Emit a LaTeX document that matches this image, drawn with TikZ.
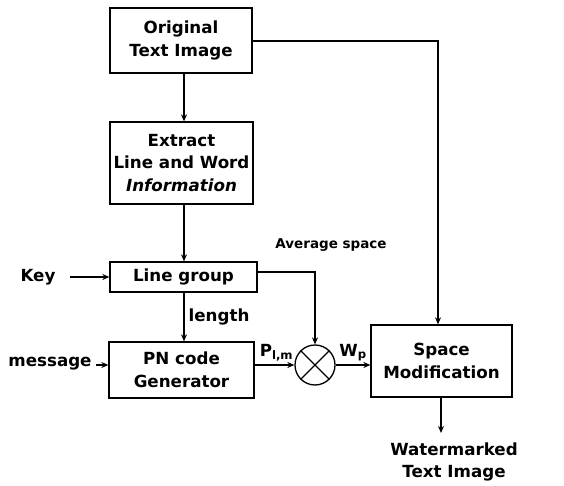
\documentclass[tikz,border=0pt]{standalone}
\usepackage{fontspec}
\setmainfont{DejaVu Sans}
\usetikzlibrary{arrows.meta,calc}
\begin{document}
\begin{tikzpicture}[x=1pt,y=-1pt,
  font=\fontsize{16.7}{22.5}\selectfont\bfseries,
  blk/.style={draw,line width=1.3pt,align=center,inner sep=0pt},
  flow/.style={line width=1.3pt,-{Stealth[length=7pt,width=6pt]}},
  lbl/.style={inner sep=0pt,align=center}]
\useasboundingbox (0,0) rectangle (564,486);

% processing blocks
\node[blk,minimum width=142,minimum height=65] (orig) at (181,40.5) {Original\\Text Image};
\node[blk,minimum width=143,minimum height=82] (extr) at (181.5,163) {Extract\\Line and Word\\\textit{Information}};
\node[blk,minimum width=147,minimum height=30] (lgrp) at (183.5,277) {Line group};
\node[blk,minimum width=145,minimum height=56] (pn) at (181.5,370) {PN code\\Generator};
\node[blk,minimum width=141,minimum height=72] (spc) at (441.5,361) {Space\\Modification};
\node[draw,circle,line width=1.3pt,minimum size=40,inner sep=0pt] (mix) at (315,365) {};
\draw[line width=1.3pt] (mix.north east) -- (mix.south west) (mix.north west) -- (mix.south east);

% free labels
\node[lbl] (key) at (38,277) {Key};
\node[lbl] (msg) at (50,364) {message};
\node[lbl,font=\fontsize{13.5}{16}\selectfont\bfseries] (avg) at (331,245) {Average space};
\node[lbl] (out) at (454,462) {Watermarked\\Text Image};
\coordinate (outend) at (441,433);

% connectors
\draw[flow] (orig.south -| 184,0) -- (extr.north -| 184,0);
\draw[flow] (extr.south -| 184,0) -- (lgrp.north -| 184,0);
\draw[flow] (lgrp.south -| 184,0) -- node[lbl,right=4pt] {length} (pn.north -| 184,0);
\draw[flow] (orig.east |- 0,41) -| (spc.north -| 438,0);
\draw[flow] (lgrp.east |- 0,272) -| (mix.north);
\draw[flow] (70,277) -- (lgrp.west);
\draw[flow] (msg.east) ++(4,1) -- (pn.west |- 0,365);
\draw[flow] (pn.east |- 0,365) -- node[lbl,above=3pt,pos=0.55] {P\textsubscript{l,m}} (mix.west);
\draw[flow] (mix.east) -- node[lbl,above=3pt,pos=0.5] {W\textsubscript{p}} (spc.west |- 0,365);
\draw[flow] (spc.south -| 441,0) -- (outend);
\end{tikzpicture}
\end{document}
